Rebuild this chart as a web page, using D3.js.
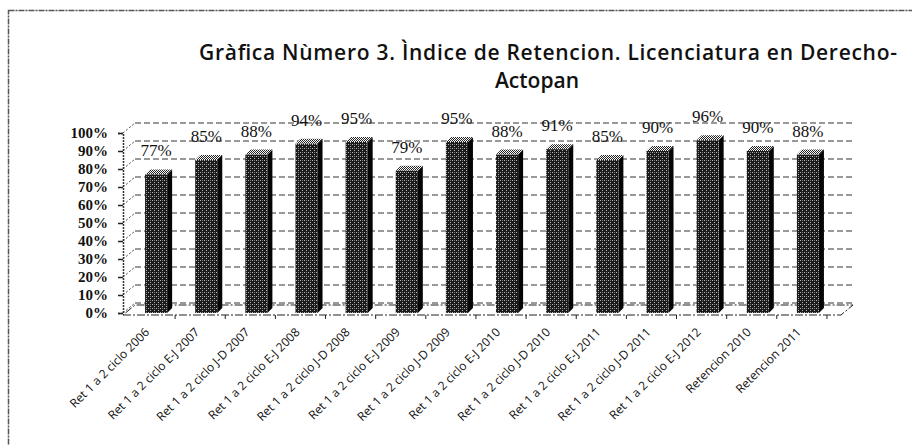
<!DOCTYPE html>
<html>
<head>
<meta charset="utf-8">
<script src="https://cdn.jsdelivr.net/npm/d3@7"></script>
<style>
  body { margin: 0; background: #fff; }
  svg { display: block; }
</style>
</head>
<body>
<div id="chart"></div>
<script>
const categories = [
  "Ret 1 a 2 ciclo 2006",
  "Ret 1 a 2 ciclo E-J 2007",
  "Ret 1 a 2 ciclo J-D 2007",
  "Ret 1 a 2 ciclo E-J 2008",
  "Ret 1 a 2 ciclo J-D 2008",
  "Ret 1 a 2 ciclo E-J 2009",
  "Ret 1 a 2 ciclo J-D 2009",
  "Ret 1 a 2 ciclo E-J 2010",
  "Ret 1 a 2 ciclo J-D 2010",
  "Ret 1 a 2 ciclo E-J 2011",
  "Ret 1 a 2 ciclo J-D 2011",
  "Ret 1 a 2 ciclo E-J 2012",
  "Retencion 2010",
  "Retencion 2011"
];
const values = [77, 85, 88, 94, 95, 79, 95, 88, 91, 85, 90, 96, 90, 88];
const yTicks = [0, 10, 20, 30, 40, 50, 60, 70, 80, 90, 100];
const titleLines = ["Gràfica Nùmero 3. Ìndice de Retencion. Licenciatura en Derecho-", "Actopan"];

const width = 912, height = 445;
// 3d offsets: back wall and bar depth
const wall = {dx: 12, dy: -10};
const depth = {dx: 5, dy: -5};

const svg = d3.select("#chart").append("svg")
  .attr("width", width).attr("height", height);

const defs = svg.append("defs");
// halftone-ish fill for the scanned bars
const pat = defs.append("pattern").attr("id", "dots")
  .attr("width", 4).attr("height", 4).attr("patternUnits", "userSpaceOnUse");
pat.append("rect").attr("width", 4).attr("height", 4).attr("fill", "#1a1a1a");
pat.append("rect").attr("x", 0).attr("y", 0).attr("width", 1).attr("height", 1).attr("fill", "#bbb");
pat.append("rect").attr("x", 2).attr("y", 2).attr("width", 1).attr("height", 1).attr("fill", "#bbb");
pat.append("rect").attr("x", 2).attr("y", 0).attr("width", 1).attr("height", 1).attr("fill", "#777");
const pat2 = defs.append("pattern").attr("id", "checker")
  .attr("width", 2).attr("height", 2).attr("patternUnits", "userSpaceOnUse");
pat2.append("rect").attr("width", 2).attr("height", 2).attr("fill", "#fff");
pat2.append("rect").attr("width", 1).attr("height", 1).attr("fill", "#222");
pat2.append("rect").attr("x", 1).attr("y", 1).attr("width", 1).attr("height", 1).attr("fill", "#222");

// outer frame of the scanned chart
svg.append("rect")
  .attr("x", 8.5).attr("y", 10.5).attr("width", width).attr("height", height)
  .attr("fill", "none").attr("stroke", "#555").attr("stroke-width", 1.5)
  .attr("stroke-dasharray", "6,1,2,1");

// title
svg.append("g").selectAll("text").data(titleLines).join("text")
  .attr("x", (d, i) => i === 0 ? 199 : 537)
  .attr("y", (d, i) => 60 + i * 28)
  .attr("text-anchor", (d, i) => i === 0 ? "start" : "middle")
  .attr("font-family", "'Open Sans', sans-serif")
  .attr("font-weight", 600)
  .attr("font-size", 21)
  .attr("fill", "#111")
  .attr("textLength", (d, i) => i === 0 ? 698 : null)
  .attr("lengthAdjust", "spacing")
  .text(d => d);

const x0 = 123, x1 = 841;
const x = d3.scaleBand().domain(categories).range([x0, x1]).paddingInner(0.56).paddingOuter(0.44);
const y = d3.scaleLinear().domain([0, 100]).range([313, 133]);

// floor
svg.append("path")
  .attr("d", `M${x0},${y(0) + 2}L${x1},${y(0) + 2}L${x1 + wall.dx},${y(0) + 2 + wall.dy}L${x0 + wall.dx},${y(0) + 2 + wall.dy}Z`)
  .attr("fill", "none").attr("stroke", "#222").attr("stroke-width", 1)
  .attr("stroke-dasharray", "8,2,2,2");

// back wall gridlines
svg.append("g").selectAll("line").data(yTicks).join("line")
  .attr("x1", x0 + wall.dx).attr("x2", x1 + wall.dx)
  .attr("y1", d => y(d) + wall.dy).attr("y2", d => y(d) + wall.dy)
  .attr("stroke", "#333").attr("stroke-width", 1)
  .attr("stroke-dasharray", "6,3");

// side wall diagonals
svg.append("g").selectAll("line").data(yTicks).join("line")
  .attr("x1", x0).attr("x2", x0 + wall.dx)
  .attr("y1", d => y(d)).attr("y2", d => y(d) + wall.dy)
  .attr("stroke", "#444").attr("stroke-width", 1)
  .attr("stroke-dasharray", "2,2");

// y axis
const yAxis = d3.axisLeft(y).tickValues(yTicks).tickFormat(d => d + "%").tickSize(5).tickPadding(10);
const ya = svg.append("g").attr("transform", `translate(${x0},0)`).call(yAxis);
ya.select(".domain").attr("stroke", "#333").attr("stroke-dasharray", "2,1").attr("stroke-width", 1.5);
ya.selectAll(".tick line").attr("stroke", "#222").attr("stroke-width", 1.5);
ya.selectAll(".tick text")
  .attr("font-family", "'Liberation Serif', serif")
  .attr("font-size", 15).attr("font-weight", "bold").attr("fill", "#111");

const bw = x.bandwidth();

// category ticks under the floor
svg.append("g").selectAll("line").data(categories).join("line")
  .attr("x1", d => x(d) + bw + 8)
  .attr("x2", d => x(d) + bw + 8)
  .attr("y1", y(0) + 2).attr("y2", y(0) + 6)
  .attr("stroke", "#222");

// bars
const bars = svg.append("g").selectAll("g").data(values).join("g");
bars.append("path") // right side
  .attr("d", (d, i) => {
    const bx = x(categories[i]) + bw, top = y(d), base = y(0);
    return `M${bx},${base}L${bx + depth.dx},${base + depth.dy}L${bx + depth.dx},${top + depth.dy}L${bx},${top}Z`;
  })
  .attr("fill", "#050505");
bars.append("path") // top
  .attr("d", (d, i) => {
    const bx = x(categories[i]), top = y(d);
    return `M${bx},${top}L${bx + bw},${top}L${bx + bw + depth.dx},${top + depth.dy}L${bx + depth.dx},${top + depth.dy}Z`;
  })
  .attr("fill", "url(#checker)");
bars.append("rect") // front
  .attr("x", (d, i) => x(categories[i]))
  .attr("y", d => y(d))
  .attr("width", bw)
  .attr("height", d => y(0) - y(d))
  .attr("fill", "url(#dots)");

// data labels
svg.append("g").selectAll("text").data(values).join("text")
  .attr("x", (d, i) => x(categories[i]) + bw / 2)
  .attr("y", d => y(d) - 18)
  .attr("text-anchor", "middle")
  .attr("font-family", "'Liberation Serif', serif")
  .attr("font-size", 17)
  .attr("fill", "#111")
  .text(d => d + "%");

// x labels, rotated
svg.append("g").selectAll("text").data(categories).join("text")
  .attr("transform", d => `translate(${x(d) + bw / 2 - 6},${y(0) + 20}) rotate(-45)`)
  .attr("text-anchor", "end")
  .attr("font-family", "'Open Sans', sans-serif")
  .attr("font-size", 12)
  .attr("fill", "#111")
  .text(d => d);
</script>
</body>
</html>
